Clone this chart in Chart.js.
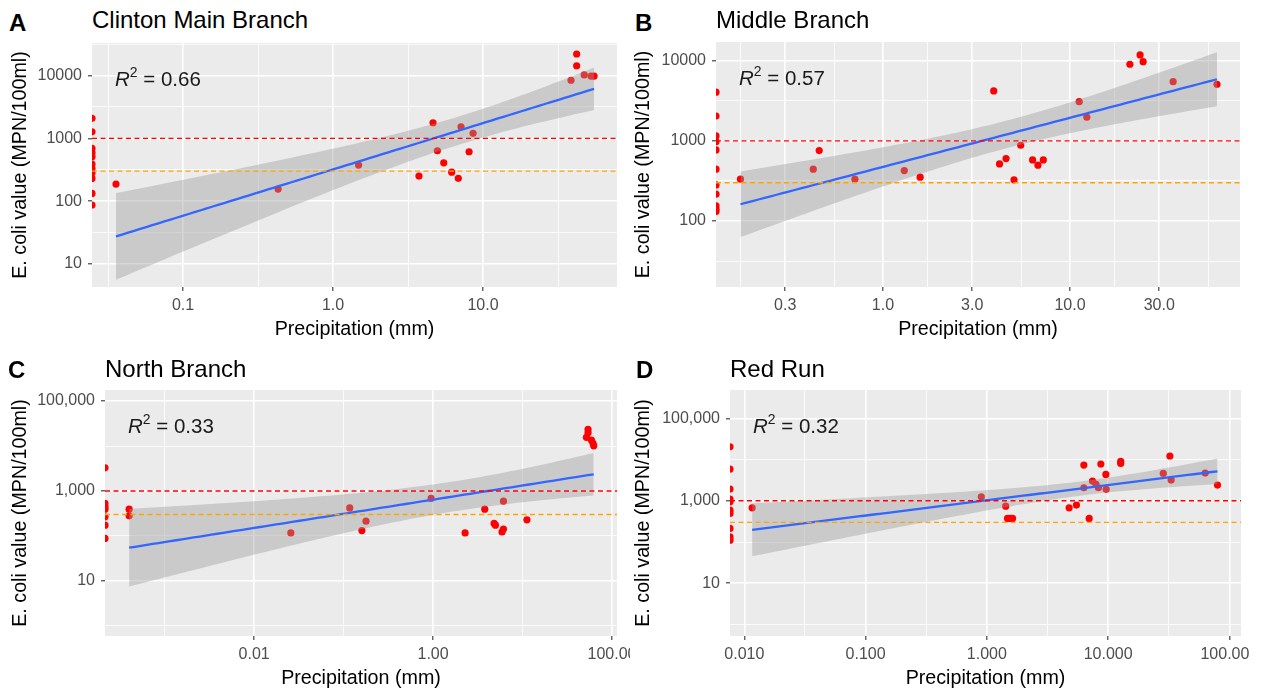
<!DOCTYPE html>
<html>
<head>
<meta charset="utf-8">
<title>E. coli vs precipitation</title>
<script src="https://cdn.jsdelivr.net/npm/chart.js@4.4.1/dist/chart.umd.min.js"></script>
<style>
  html, body { margin: 0; padding: 0; background: #ffffff; }
  body { position: relative; width: 1263px; height: 692px; overflow: hidden;
         font-family: "Liberation Sans", Arial, Helvetica, sans-serif; color: #000; }
  canvas { position: absolute; }
  .tag { position: absolute; font-weight: bold; font-size: 24px; line-height: 1; }
  .ttl { position: absolute; font-size: 24px; line-height: 1; }
  .r2  { position: absolute; font-size: 20.5px; line-height: 1; white-space: nowrap; color: #1a1a1a; }
  .r2 sup { font-size: 0.68em; line-height: 0; vertical-align: 0.62em; }
</style>
</head>
<body>
<script>
// ---------- values ----------
const tags = ['A', 'B', 'C', 'D'];
const titles = ['Clinton Main Branch', 'Middle Branch', 'North Branch', 'Red Run'];
const r2Text = ['0.66', '0.57', '0.33', '0.32'];
const limitHigh = 1000;   // red dashed line
const limitLow = 300;     // orange dashed line

// precipitation (mm) and E. coli (MPN/100ml); 0 mm is drawn on the left edge (like -Inf in ggplot)
const precipA = [0, 0, 0, 0, 0, 0, 0, 0, 0, 0, 0,
  0.0357, 0.43, 1.48, 3.74, 4.64, 4.96, 5.47, 6.18, 6.84, 7.13, 8.07, 8.58, 38.6, 42.1, 42.1, 47.3, 52.5, 55.0];
const ecoliA = [2080, 1270, 690, 590, 510, 390, 330, 280, 230, 133, 87,
  187, 156, 376, 251, 1770, 635, 408, 290, 231, 1530, 612, 1200, 8400, 22000, 14300, 10200, 9800, 9800];

const precipB = [0, 0, 0, 0, 0, 0, 0, 0, 0, 0, 0,
  0.173, 0.424, 0.456, 0.708, 1.30, 1.58, 3.91, 4.20, 4.55, 5.02, 5.45, 6.31, 6.74, 7.20, 11.2, 12.3, 20.9, 23.7, 24.6, 35.6, 61.1];
const ecoliB = [4040, 2040, 1150, 977, 770, 443, 282, 216, 154, 140, 131,
  332, 443, 755, 332, 425, 352, 4190, 515, 600, 326, 880, 578, 497, 578, 3080, 1970, 9020, 11800, 9720, 5470, 5080];

const precipC = [0, 0, 0, 0, 0, 0, 0,
  0.0004, 0.0004, 0.0257, 0.117, 0.160, 0.178, 0.95, 2.28, 3.78, 4.81, 4.98, 5.90, 6.12, 6.12, 11.2, 51.8, 54.0, 54.0, 58.9, 61.4, 62.5];
const ecoliC = [3270, 528, 444, 395, 266, 174, 88,
  395, 280, 117, 421, 132, 213, 683, 117, 395, 190, 174, 123, 142, 594, 228, 15600, 23400, 19700, 13600, 11500, 10100];

const precipD = [0, 0, 0, 0, 0, 0, 0, 0, 0, 0,
  0.0116, 0.90, 1.43, 1.48, 1.55, 1.63, 4.77, 5.48, 6.31, 6.31, 6.98, 7.43, 7.93, 8.32, 8.71, 9.58, 9.64, 12.7, 12.7, 28.5, 32.3, 33.1, 63.2, 79.8];
const ecoliD = [20400, 5870, 1920, 1100, 943, 593, 493, 213, 133, 111,
  674, 1250, 741, 373, 373, 373, 674, 785, 7350, 2070, 373, 3000, 2540, 2070, 7770, 4360, 1890, 9040, 8070, 4610, 12200, 3180, 4700, 2400];

// axis breaks + labels (ggplot log10 breaks; minor lines sit halfway between them)
const xBreaksA = [0.01, 0.1, 1, 10, 100];
const xLabelsA = ['0.01', '0.1', '1.0', '10.0', '100.0'];
const yBreaksA = [1, 10, 100, 1000, 10000, 100000];
const yLabelsA = ['1', '10', '100', '1000', '10000', '1e+05'];

const xBreaksB = [0.1, 0.3, 1, 3, 10, 30, 100];
const xLabelsB = ['0.1', '0.3', '1.0', '3.0', '10.0', '30.0', '100.0'];
const yBreaksB = [10, 100, 1000, 10000, 100000];
const yLabelsB = ['10', '100', '1000', '10000', '1e+05'];

const xBreaksC = [0.0001, 0.01, 1, 100, 10000];
const xLabelsC = ['1e-04', '0.01', '1.00', '100.00', '1e+04'];
const yBreaksC = [0.1, 10, 1000, 100000, 10000000];
const yLabelsC = ['0.1', '10', '1,000', '100,000', '10,000,000'];

const xBreaksD = [0.001, 0.01, 0.1, 1, 10, 100, 1000];
const xLabelsD = ['0.001', '0.010', '0.100', '1.000', '10.000', '100.000', '1000.000'];
const yBreaksD = [0.1, 10, 1000, 100000, 10000000];
const yLabelsD = ['0.1', '10', '1,000', '100,000', '10,000,000'];

// ---------- layout (page pixels) ----------
const FONT = '"Liberation Sans", Arial, Helvetica, sans-serif';
const panels = [
  { precip: precipA, ecoli: ecoliA, xb: xBreaksA, xl: xLabelsA, yb: yBreaksA, yl: yLabelsA,
    xRange: [0.0247, 78.2], yRange: [4.31, 32900],
    box: { left: 0, top: 36, width: 630, height: 309 }, area: { left: 92, top: 43, right: 617, bottom: 287 },
    yTitleX: 21, xTitleY: 330, tagX: 9, tagY: 23, headY: 20 },
  { precip: precipB, ecoli: ecoliB, xb: xBreaksB, xl: xLabelsB, yb: yBreaksB, yl: yLabelsB,
    xRange: [0.128, 81.1], yRange: [15.0, 17100],
    box: { left: 630, top: 36, width: 620, height: 309 }, area: { left: 716, top: 42, right: 1240, bottom: 287 },
    yTitleX: 644, xTitleY: 330, tagX: 635, tagY: 22.5, headY: 20 },
  { precip: precipC, ecoli: ecoliC, xb: xBreaksC, xl: xLabelsC, yb: yBreaksC, yl: yLabelsC,
    xRange: [0.000215, 113.8], yRange: [0.597, 175800],
    box: { left: 0, top: 382, width: 630, height: 310 }, area: { left: 105, top: 390, right: 617, bottom: 636 },
    yTitleX: 21, xTitleY: 678.5, tagX: 8, tagY: 370, headY: 369 },
  { precip: precipD, ecoli: ecoliD, xb: xBreaksD, xl: xLabelsD, yb: yBreaksD, yl: yLabelsD,
    xRange: [0.00762, 124.7], yRange: [0.525, 486000],
    box: { left: 630, top: 382, width: 620, height: 310 }, area: { left: 730, top: 390, right: 1241, bottom: 636 },
    yTitleX: 644, xTitleY: 678.5, tagX: 636, tagY: 370, headY: 369 }
];

// ---------- helpers ----------
function tickList(breaks, labels, lo, hi) {
  const out = [];
  breaks.forEach((v, i) => {
    out.push({ value: v, lab: labels[i], minor: false });
    if (i < breaks.length - 1) out.push({ value: Math.sqrt(v * breaks[i + 1]), lab: '', minor: true });
  });
  return out.filter(t => t.value >= lo * 0.999 && t.value <= hi * 1.001);
}

// two-sided 95% t quantile (Cornish-Fisher expansion)
function t975(df) {
  const z = 1.959964;
  const g1 = (z ** 3 + z) / 4;
  const g2 = (5 * z ** 5 + 16 * z ** 3 + 3 * z) / 96;
  const g3 = (3 * z ** 7 + 19 * z ** 5 + 17 * z ** 3 - 15 * z) / 384;
  const g4 = (79 * z ** 9 + 776 * z ** 7 + 1482 * z ** 5 - 1920 * z ** 3 - 945 * z) / 92160;
  return z + g1 / df + g2 / df ** 2 + g3 / df ** 3 + g4 / df ** 4;
}

// geom_smooth(method = "lm") on log10 axes: zero rainfall is dropped from the fit
function lmSmooth(precip, ecoli) {
  const xs = [], ys = [];
  precip.forEach((p, i) => { if (p > 0) { xs.push(Math.log10(p)); ys.push(Math.log10(ecoli[i])); } });
  const n = xs.length;
  const mx = xs.reduce((a, b) => a + b, 0) / n;
  const my = ys.reduce((a, b) => a + b, 0) / n;
  let sxx = 0, sxy = 0, syy = 0;
  xs.forEach((x, i) => { sxx += (x - mx) ** 2; sxy += (x - mx) * (ys[i] - my); syy += (ys[i] - my) ** 2; });
  const slope = sxy / sxx;
  const icpt = my - slope * mx;
  const s = Math.sqrt((syy - slope * sxy) / (n - 2));
  const t = t975(n - 2);
  const lo = Math.min(...xs), hi = Math.max(...xs);
  const fit = [], upper = [], lower = [];
  for (let k = 0; k < 80; k++) {
    const x = lo + (hi - lo) * k / 79;
    const f = icpt + slope * x;
    const half = t * s * Math.sqrt(1 / n + (x - mx) ** 2 / sxx);
    fit.push({ x: 10 ** x, y: 10 ** f });
    upper.push({ x: 10 ** x, y: 10 ** (f + half) });
    lower.push({ x: 10 ** x, y: 10 ** (f - half) });
  }
  return { fit, upper, lower };
}

const panelBg = {
  id: 'panelBg',
  beforeDraw(chart) {
    const { ctx, chartArea: a } = chart;
    ctx.save();
    ctx.fillStyle = '#EBEBEB';
    ctx.fillRect(a.left, a.top, a.right - a.left, a.bottom - a.top);
    ctx.restore();
  }
};

function addDiv(cls, html, left, top) {
  const d = document.createElement('div');
  d.className = cls;
  d.innerHTML = html;
  d.style.left = left + 'px';
  d.style.top = top + 'px';
  document.body.appendChild(d);
  return d;
}

// ---------- build the four panels ----------
panels.forEach((p, idx) => {
  const cv = document.createElement('canvas');
  cv.width = p.box.width;
  cv.height = p.box.height;
  cv.style.left = p.box.left + 'px';
  cv.style.top = p.box.top + 'px';
  document.body.appendChild(cv);

  const [xMin, xMax] = p.xRange;
  const [yMin, yMax] = p.yRange;
  const pts = p.precip.map((v, i) => ({ x: v > 0 ? v : xMin, y: p.ecoli[i] }));
  const sm = lmSmooth(p.precip, p.ecoli);
  const xTicks = tickList(p.xb, p.xl, xMin, xMax);
  const yTicks = tickList(p.yb, p.yl, yMin, yMax);

  const titleSize = 19.7;
  const lh = titleSize * 1.2;

  const gridOpts = {
    color: '#FFFFFF',
    lineWidth: c => (c.tick && c.tick.minor ? 0.8 : 1.6),
    tickColor: c => (c.tick && c.tick.minor ? 'rgba(0,0,0,0)' : '#333333'),
    tickWidth: 1.1,
    tickLength: 4,
    drawTicks: true
  };
  const tickFont = { family: FONT, size: 16 };

  new Chart(cv, {
    type: 'scatter',
    data: {
      datasets: [
        { data: [{ x: xMin, y: limitHigh }, { x: xMax, y: limitHigh }], showLine: true,
          borderColor: '#FF0000', borderWidth: 1.3, borderDash: [5, 3.5], pointRadius: 0, clip: 0 },
        { data: [{ x: xMin, y: limitLow }, { x: xMax, y: limitLow }], showLine: true,
          borderColor: '#FFA500', borderWidth: 1.3, borderDash: [5, 3.5], pointRadius: 0, clip: 0 },
        { data: sm.fit, showLine: true, borderColor: '#3366FF', borderWidth: 2.3, pointRadius: 0, clip: 0 },
        { data: sm.upper, showLine: true, borderColor: 'rgba(0,0,0,0)', borderWidth: 0, pointRadius: 0,
          fill: '+1', backgroundColor: 'rgba(153,153,153,0.4)', clip: 0 },
        { data: sm.lower, showLine: true, borderColor: 'rgba(0,0,0,0)', borderWidth: 0, pointRadius: 0,
          fill: false, clip: 0 },
        { data: pts, showLine: false, pointRadius: 3.6, pointHoverRadius: 3.6,
          backgroundColor: '#FF0000', pointBackgroundColor: '#FF0000', pointBorderWidth: 0, borderWidth: 0, clip: 0 }
      ]
    },
    options: {
      responsive: false,
      animation: false,
      devicePixelRatio: 1,
      events: [],
      layout: {
        padding: {
          top: p.area.top - p.box.top,
          right: p.box.left + p.box.width - p.area.right,
          left: 0,
          bottom: 0
        }
      },
      plugins: { legend: { display: false }, tooltip: { enabled: false } },
      scales: {
        x: {
          type: 'logarithmic', position: 'bottom', min: xMin, max: xMax,
          afterBuildTicks: s => { s.ticks = xTicks.map(t => ({ ...t })); },
          afterFit: s => {
            s.height = p.box.top + p.box.height - p.area.bottom;
            s.paddingLeft = 0; s.paddingRight = 0;
          },
          grid: gridOpts,
          border: { display: false },
          ticks: {
            autoSkip: false, maxRotation: 0, minRotation: 0, padding: 5.4,
            color: '#4D4D4D', font: tickFont,
            callback: (v, i, ticks) => ticks[i].lab
          },
          title: {
            display: true, text: 'Precipitation (mm)', color: '#000000',
            font: { family: FONT, size: titleSize },
            padding: { top: 0, bottom: p.box.top + p.box.height - p.xTitleY - lh / 2 }
          }
        },
        y: {
          type: 'logarithmic', position: 'left', min: yMin, max: yMax,
          afterBuildTicks: s => { s.ticks = yTicks.map(t => ({ ...t })); },
          afterFit: s => {
            s.width = p.area.left - p.box.left;
            s.paddingTop = 0; s.paddingBottom = 0;
          },
          grid: gridOpts,
          border: { display: false },
          ticks: {
            autoSkip: false, padding: 6,
            color: '#4D4D4D', font: tickFont,
            callback: (v, i, ticks) => ticks[i].lab
          },
          title: {
            display: true, text: 'E. coli value (MPN/100ml)', color: '#000000',
            font: { family: FONT, size: titleSize },
            padding: { top: p.yTitleX - p.box.left - lh / 2, bottom: 0 }
          }
        }
      }
    },
    plugins: [panelBg]
  });

  // panel tag, title and R² note (as real text)
  addDiv('tag', tags[idx], p.tagX, p.tagY - 11.8);
  addDiv('ttl', titles[idx], p.area.left, p.headY - 11.8);
  addDiv('r2', '<i>R</i><sup>2</sup> = ' + r2Text[idx], p.area.left + 23, p.area.top + 36 - 10);
});
</script>
</body>
</html>
